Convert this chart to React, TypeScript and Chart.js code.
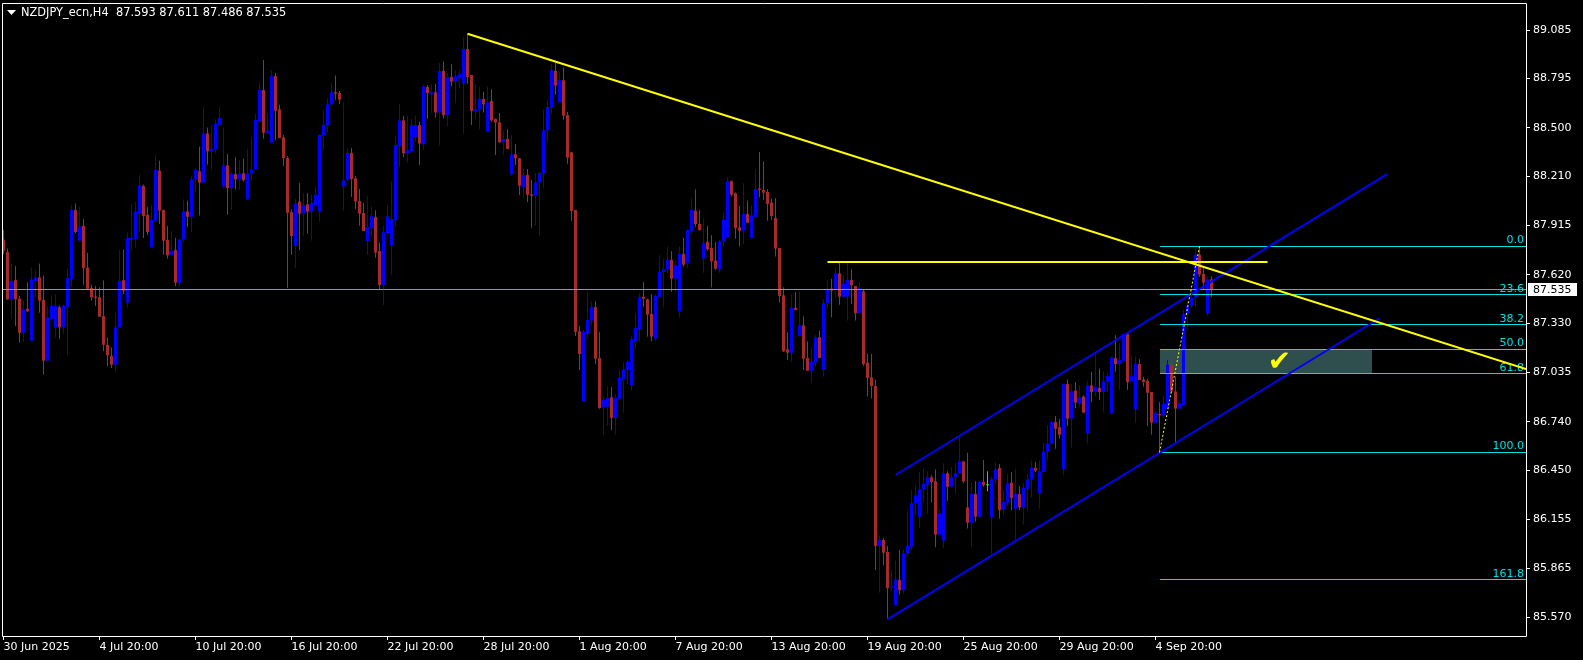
import React, { useEffect, useRef } from "react";
import { Chart, registerables } from "chart.js";

Chart.register(...registerables);

const headerText = "NZDJPY_ecn,H4  87.593 87.611 87.486 87.535";

const xTickBars = [0, 24, 48, 72, 96, 120, 144, 168, 192, 216, 240, 264, 288];
const xTickLabels = [
  "30 Jun 2025", "4 Jul 20:00", "10 Jul 20:00", "16 Jul 20:00", "22 Jul 20:00",
  "28 Jul 20:00", "1 Aug 20:00", "7 Aug 20:00", "13 Aug 20:00", "19 Aug 20:00",
  "25 Aug 20:00", "29 Aug 20:00", "4 Sep 20:00",
];
const yTickValues = [89.085, 88.795, 88.5, 88.21, 87.915, 87.62, 87.33, 87.035, 86.74, 86.45, 86.155, 85.865, 85.57];

const opens = [
  87.832, 87.756, 87.473, 87.588, 87.477, 87.273, 87.417, 87.225, 87.584, 87.604,
  87.469, 87.106, 87.357, 87.305, 87.425, 87.305, 87.429, 87.596, 88.007, 87.824,
  87.912, 87.664, 87.541, 87.489, 87.485, 87.373, 87.201, 87.134, 87.082, 87.305,
  87.588, 87.453, 87.832, 87.836, 87.987, 88.151, 87.979, 87.784, 87.944, 88.243,
  88.007, 87.828, 87.740, 87.768, 87.572, 87.832, 87.999, 87.967, 88.191, 88.239,
  88.171, 88.466, 88.359, 88.370, 88.518, 88.147, 88.275, 88.139, 88.223, 88.191,
  88.227, 88.071, 88.227, 88.251, 88.538, 88.726, 88.470, 88.410, 88.809, 88.610,
  88.442, 88.319, 87.995, 87.792, 88.058, 87.986, 88.042, 87.998, 88.038, 87.998,
  88.453, 88.513, 88.640, 88.712, 88.708, 88.149, 88.189, 88.349, 88.197, 88.062,
  87.990, 87.822, 87.898, 87.966, 87.762, 87.559, 87.870, 87.798, 87.946, 88.389,
  88.544, 88.349, 88.361, 88.445, 88.516, 88.401, 88.744, 88.700, 88.712, 88.592,
  88.840, 88.576, 88.804, 88.776, 88.796, 88.764, 88.971, 88.816, 88.600, 88.608,
  88.672, 88.477, 88.660, 88.552, 88.532, 88.413, 88.433, 88.221, 88.341, 88.317,
  88.145, 88.217, 88.102, 88.094, 88.173, 88.225, 88.485, 88.620, 88.840, 88.652,
  88.784, 88.576, 88.353, 88.008, 87.282, 86.863, 87.266, 87.346, 87.426, 87.122,
  86.827, 86.831, 86.887, 86.763, 86.879, 86.995, 87.050, 86.959, 87.222, 87.294,
  87.489, 87.473, 87.386, 87.238, 87.489, 87.637, 87.653, 87.709, 87.597, 87.402,
  87.745, 87.689, 87.884, 88.004, 87.924, 87.717, 87.817, 87.781, 87.705, 87.653,
  87.821, 87.844, 88.180, 88.108, 87.904, 87.884, 87.984, 87.840, 87.968, 88.136,
  88.128, 88.116, 88.052, 87.960, 87.781, 87.497, 87.174, 87.154, 87.422, 87.254,
  87.318, 87.122, 87.046, 87.094, 87.246, 87.050, 87.449, 87.537, 87.529, 87.629,
  87.489, 87.489, 87.589, 87.553, 87.393, 87.521, 87.094, 87.006, 86.954, 85.997,
  86.033, 85.961, 85.749, 85.642, 85.793, 85.733, 85.953, 85.993, 86.252, 86.172,
  86.336, 86.364, 86.408, 86.384, 86.065, 86.029, 86.432, 86.352, 86.408, 86.432,
  86.504, 86.228, 86.136, 86.308, 86.172, 86.380, 86.360, 86.168, 86.396, 86.464,
  86.216, 86.256, 86.376, 86.220, 86.308, 86.228, 86.340, 86.396, 86.464, 86.312,
  86.440, 86.563, 86.611, 86.739, 86.707, 86.456, 86.966, 86.759, 86.927, 86.851,
  86.891, 86.671, 86.958, 86.919, 86.942, 86.919, 86.982, 86.791, 87.122, 87.086,
  87.106, 87.266, 86.982, 86.815, 87.086, 86.994, 86.986, 86.918, 86.735, 86.787,
  86.779, 86.819, 87.078, 86.922, 86.819, 86.839, 87.385, 87.433, 87.485, 87.740,
  87.625, 87.389, 87.593,
];

const highs = [
  87.888, 87.778, 87.684, 87.672, 87.493, 87.469, 87.576, 87.664, 87.648, 87.688,
  87.616, 87.429, 87.497, 87.505, 87.437, 87.441, 87.660, 88.039, 88.047, 88.027,
  87.952, 87.752, 87.561, 87.553, 87.545, 87.588, 87.245, 87.185, 87.397, 87.768,
  87.772, 87.872, 88.047, 88.055, 88.219, 88.159, 88.027, 88.039, 88.339, 88.303,
  88.011, 87.912, 87.880, 87.840, 87.832, 88.071, 88.063, 88.207, 88.259, 88.386,
  88.626, 88.502, 88.514, 88.550, 88.626, 88.502, 88.343, 88.235, 88.323, 88.307,
  88.315, 88.374, 88.442, 88.582, 88.773, 88.905, 88.586, 88.845, 88.829, 88.638,
  88.458, 88.331, 88.011, 88.075, 88.169, 88.110, 88.110, 88.098, 88.149, 88.457,
  88.604, 88.676, 88.772, 88.812, 88.720, 88.652, 88.377, 88.381, 88.213, 88.133,
  88.050, 88.090, 88.030, 88.006, 87.814, 87.914, 88.038, 88.177, 88.449, 88.644,
  88.572, 88.572, 88.552, 88.572, 88.536, 88.756, 88.756, 88.760, 88.764, 88.888,
  88.896, 88.828, 88.880, 88.844, 88.844, 89.043, 89.063, 88.816, 88.760, 88.744,
  88.716, 88.748, 88.732, 88.556, 88.588, 88.481, 88.493, 88.457, 88.401, 88.321,
  88.261, 88.253, 88.189, 88.229, 88.237, 88.608, 88.668, 88.880, 88.888, 88.836,
  88.860, 88.596, 88.357, 88.008, 87.314, 87.290, 87.517, 87.461, 87.461, 87.278,
  86.891, 86.951, 86.947, 86.907, 87.054, 87.094, 87.110, 87.250, 87.390, 87.509,
  87.577, 87.477, 87.505, 87.501, 87.737, 87.713, 87.789, 87.761, 87.705, 87.789,
  87.840, 87.892, 88.080, 88.132, 88.008, 87.956, 87.912, 87.856, 87.817, 87.828,
  87.996, 88.204, 88.184, 88.112, 88.032, 88.168, 88.064, 88.036, 88.251, 88.355,
  88.299, 88.132, 88.076, 88.080, 87.781, 87.545, 87.274, 87.505, 87.517, 87.521,
  87.370, 87.222, 87.186, 87.258, 87.286, 87.473, 87.585, 87.597, 87.665, 87.697,
  87.617, 87.689, 87.653, 87.553, 87.579, 87.529, 87.146, 87.146, 86.990, 86.061,
  86.045, 85.997, 85.853, 85.909, 85.973, 85.977, 86.208, 86.332, 86.364, 86.440,
  86.460, 86.444, 86.420, 86.456, 86.212, 86.492, 86.444, 86.468, 86.492, 86.655,
  86.504, 86.555, 86.380, 86.384, 86.388, 86.512, 86.444, 86.412, 86.500, 86.488,
  86.332, 86.428, 86.440, 86.460, 86.356, 86.376, 86.428, 86.508, 86.500, 86.508,
  86.615, 86.719, 86.743, 86.775, 86.755, 86.970, 86.994, 86.966, 86.978, 86.962,
  86.899, 86.986, 87.038, 87.158, 87.058, 87.042, 87.034, 87.130, 87.258, 87.210,
  87.266, 87.266, 87.134, 87.130, 87.114, 87.010, 86.998, 86.918, 86.803, 86.859,
  86.898, 87.110, 87.106, 87.010, 86.863, 87.409, 87.461, 87.537, 87.780, 87.792,
  87.665, 87.609, 87.611,
];

const lows = [
  87.744, 87.469, 87.357, 87.313, 87.213, 87.221, 87.397, 87.225, 87.489, 87.393,
  87.022, 87.106, 87.349, 87.245, 87.237, 87.269, 87.138, 87.549, 87.868, 87.820,
  87.561, 87.533, 87.465, 87.433, 87.369, 87.162, 87.074, 87.062, 87.042, 87.305,
  87.505, 87.425, 87.768, 87.784, 87.876, 87.840, 87.856, 87.784, 87.944, 87.924,
  87.740, 87.716, 87.736, 87.553, 87.549, 87.820, 87.904, 87.876, 88.119, 87.975,
  88.171, 88.279, 88.247, 88.347, 88.514, 88.139, 87.979, 88.007, 88.131, 88.127,
  88.179, 88.071, 88.187, 88.251, 88.534, 88.434, 88.470, 88.410, 88.426, 88.438,
  88.271, 87.541, 87.740, 87.660, 87.768, 87.854, 87.866, 87.826, 88.034, 87.942,
  88.365, 88.473, 88.628, 88.668, 88.640, 88.006, 88.181, 88.086, 88.014, 87.914,
  87.882, 87.742, 87.842, 87.722, 87.527, 87.439, 87.854, 87.619, 87.906, 88.265,
  88.325, 88.293, 88.357, 88.421, 88.277, 88.369, 88.552, 88.588, 88.560, 88.393,
  88.556, 88.509, 88.748, 88.648, 88.736, 88.465, 88.764, 88.516, 88.556, 88.493,
  88.592, 88.477, 88.536, 88.337, 88.409, 88.337, 88.373, 88.213, 88.277, 88.098,
  88.078, 88.054, 87.902, 87.914, 87.854, 88.141, 88.413, 88.584, 88.696, 88.652,
  88.548, 88.285, 87.942, 87.254, 87.050, 86.863, 87.242, 87.318, 87.086, 86.819,
  86.663, 86.715, 86.691, 86.663, 86.875, 86.795, 86.963, 86.927, 87.178, 87.222,
  87.429, 87.250, 87.222, 87.226, 87.489, 87.426, 87.629, 87.517, 87.517, 87.366,
  87.669, 87.661, 87.860, 87.908, 87.884, 87.633, 87.765, 87.545, 87.649, 87.633,
  87.789, 87.844, 88.088, 87.836, 87.789, 87.805, 87.928, 87.840, 87.964, 88.084,
  88.068, 87.944, 87.948, 87.729, 87.453, 87.158, 87.110, 87.098, 87.406, 87.250,
  87.050, 87.046, 86.975, 87.070, 87.122, 87.011, 87.414, 87.366, 87.485, 87.441,
  87.481, 87.346, 87.445, 87.346, 87.385, 87.074, 86.891, 86.879, 85.853, 85.718,
  85.881, 85.558, 85.726, 85.642, 85.706, 85.714, 85.933, 85.973, 86.180, 86.105,
  86.260, 86.188, 86.256, 85.989, 86.061, 85.985, 86.268, 86.348, 86.308, 86.428,
  86.372, 86.101, 85.993, 86.144, 86.168, 86.352, 86.324, 85.941, 86.372, 86.160,
  86.184, 86.240, 86.212, 86.033, 86.212, 86.125, 86.208, 86.288, 86.440, 86.220,
  86.436, 86.508, 86.603, 86.579, 86.639, 86.420, 86.715, 86.587, 86.823, 86.827,
  86.791, 86.611, 86.859, 86.891, 86.871, 86.799, 86.923, 86.787, 87.042, 86.930,
  87.102, 86.930, 86.978, 86.735, 86.990, 86.950, 86.715, 86.663, 86.731, 86.557,
  86.771, 86.819, 86.910, 86.611, 86.819, 86.839, 87.286, 87.425, 87.429, 87.609,
  87.529, 87.373, 87.486,
];

const closes = [
  87.764, 87.473, 87.584, 87.473, 87.273, 87.413, 87.401, 87.592, 87.604, 87.465,
  87.106, 87.365, 87.433, 87.433, 87.305, 87.433, 87.600, 88.007, 87.876, 87.908,
  87.660, 87.537, 87.485, 87.481, 87.369, 87.201, 87.138, 87.082, 87.305, 87.584,
  87.525, 87.840, 87.840, 87.999, 88.155, 87.971, 87.876, 87.948, 88.247, 88.003,
  87.824, 87.736, 87.764, 87.572, 87.832, 87.999, 87.967, 88.191, 88.247, 88.171,
  88.466, 88.359, 88.374, 88.522, 88.558, 88.275, 88.139, 88.223, 88.191, 88.227,
  88.187, 88.227, 88.251, 88.546, 88.726, 88.470, 88.482, 88.809, 88.602, 88.438,
  88.319, 87.991, 87.852, 88.047, 87.986, 88.038, 87.998, 88.050, 88.098, 88.457,
  88.516, 88.640, 88.712, 88.704, 88.668, 88.185, 88.349, 88.193, 88.058, 87.986,
  87.882, 87.906, 87.970, 87.754, 87.559, 87.874, 87.970, 87.954, 88.397, 88.544,
  88.349, 88.365, 88.516, 88.516, 88.405, 88.748, 88.708, 88.712, 88.592, 88.840,
  88.576, 88.804, 88.776, 88.808, 88.820, 88.971, 88.804, 88.600, 88.612, 88.672,
  88.640, 88.652, 88.544, 88.532, 88.413, 88.433, 88.373, 88.341, 88.317, 88.153,
  88.217, 88.098, 88.094, 88.173, 88.229, 88.485, 88.624, 88.844, 88.752, 88.784,
  88.572, 88.321, 88.002, 87.278, 87.146, 87.278, 87.350, 87.426, 87.118, 86.823,
  86.871, 86.883, 86.763, 86.883, 87.003, 87.054, 87.098, 87.234, 87.302, 87.485,
  87.477, 87.382, 87.250, 87.493, 87.637, 87.653, 87.709, 87.597, 87.677, 87.745,
  87.681, 87.888, 88.008, 87.924, 87.888, 87.809, 87.773, 87.701, 87.657, 87.821,
  87.948, 88.180, 88.100, 87.900, 87.884, 87.984, 87.932, 87.976, 88.132, 88.128,
  88.112, 88.044, 87.972, 87.777, 87.493, 87.162, 87.154, 87.422, 87.410, 87.318,
  87.118, 87.046, 87.098, 87.246, 87.122, 87.449, 87.533, 87.525, 87.629, 87.489,
  87.565, 87.589, 87.557, 87.390, 87.539, 87.086, 87.002, 86.954, 85.997, 86.033,
  85.957, 85.745, 85.753, 85.797, 85.733, 85.953, 85.997, 86.252, 86.300, 86.336,
  86.368, 86.408, 86.380, 86.065, 86.192, 86.432, 86.352, 86.408, 86.432, 86.504,
  86.384, 86.136, 86.308, 86.172, 86.380, 86.360, 86.360, 86.396, 86.456, 86.212,
  86.260, 86.372, 86.284, 86.308, 86.228, 86.344, 86.396, 86.464, 86.448, 86.444,
  86.563, 86.611, 86.739, 86.699, 86.663, 86.966, 86.759, 86.923, 86.855, 86.887,
  86.795, 86.958, 86.919, 86.950, 86.919, 86.982, 87.014, 87.126, 87.086, 87.110,
  87.266, 86.978, 87.014, 87.086, 86.990, 86.978, 86.914, 86.735, 86.795, 86.779,
  86.847, 87.082, 86.922, 86.819, 86.851, 87.385, 87.433, 87.481, 87.740, 87.621,
  87.573, 87.593, 87.535,
];

// Drawing objects (bar index / price anchors)
const trendBars = [116, 349];
const trendPrices = [89.063, 87.296];
const resistanceBars = [206, 316];
const resistancePrice = 87.697;
const channelUpperBars = [223, 346];
const channelUpperPrices = [86.422, 88.224];
const channelLowerBars = [221, 344];
const channelLowerPrices = [85.558, 87.36];
const fibBars = [289, 299];
const fibPrices = [86.557, 87.792];
const fibLevels = [0, 23.6, 38.2, 50, 61.8, 100, 161.8];
const fibLabels = ["0.0", "23.6", "38.2", "50.0", "61.8", "100.0", "161.8"];
const zoneBars = [289, 342];
const zoneLevels = [50, 61.8];
const checkBar = 319;
const checkPrice = 87.092;
const lastPrice = 87.535;

const BULL = "#0000FF";
const BEAR = "#A52A2A";
const DOJI = "#00FF00";
const FIB = "#00E0E0";
const FONT = '"DejaVu Sans", "Liberation Sans", sans-serif';

const fibPrice = (lvl: number) => fibPrices[1] - (fibPrices[1] - fibPrices[0]) * lvl / 100;

const overlayPlugin = {
  id: "mt4overlay",
  beforeDraw(chart: any) {
    const ctx = chart.ctx;
    ctx.save();
    ctx.fillStyle = "#000000";
    ctx.fillRect(0, 0, chart.width, chart.height);
    ctx.restore();
  },
  beforeDatasetsDraw(chart: any) {
    const { ctx, chartArea: a, scales } = chart;
    const x = scales.x, y = scales.y;
    ctx.save();
    ctx.beginPath();
    ctx.rect(a.left, a.top, a.right - a.left, a.bottom - a.top);
    ctx.clip();
    const x0 = Math.round(x.getPixelForValue(zoneBars[0]));
    const x1 = Math.round(x.getPixelForValue(zoneBars[1]));
    const y0 = Math.round(y.getPixelForValue(fibPrice(zoneLevels[0])));
    const y1 = Math.round(y.getPixelForValue(fibPrice(zoneLevels[1])));
    ctx.fillStyle = "#2F4F4F";
    ctx.fillRect(x0, y0, x1 - x0, y1 - y0);
    ctx.restore();
  },
  afterDatasetsDraw(chart: any) {
    const { ctx, chartArea: a, scales } = chart;
    const x = scales.x, y = scales.y;
    const crisp = (v: number) => Math.floor(v) + 0.5;
    ctx.save();
    ctx.beginPath();
    ctx.rect(a.left, a.top, a.right - a.left, a.bottom - a.top);
    ctx.clip();

    // current price line
    ctx.strokeStyle = "#8A98A8";
    ctx.lineWidth = 1;
    const py = crisp(y.getPixelForValue(lastPrice));
    ctx.beginPath();
    ctx.moveTo(a.left, py);
    ctx.lineTo(a.right, py);
    ctx.stroke();

    // fibonacci levels
    const fx = Math.round(x.getPixelForValue(fibBars[0]));
    ctx.strokeStyle = FIB;
    fibLevels.forEach((lvl) => {
      const ly = crisp(y.getPixelForValue(fibPrice(lvl)));
      ctx.beginPath();
      ctx.moveTo(fx, ly);
      ctx.lineTo(a.right, ly);
      ctx.stroke();
    });
    ctx.fillStyle = FIB;
    ctx.font = "11px " + FONT;
    ctx.textAlign = "right";
    ctx.textBaseline = "alphabetic";
    fibLevels.forEach((lvl, k) => {
      const ly = y.getPixelForValue(fibPrice(lvl));
      ctx.fillText(fibLabels[k], a.right - 2, ly - 3);
    });

    // channel
    ctx.strokeStyle = BULL;
    ctx.lineWidth = 2;
    ctx.beginPath();
    ctx.moveTo(x.getPixelForValue(channelUpperBars[0]), y.getPixelForValue(channelUpperPrices[0]));
    ctx.lineTo(x.getPixelForValue(channelUpperBars[1]), y.getPixelForValue(channelUpperPrices[1]));
    ctx.stroke();
    ctx.beginPath();
    ctx.moveTo(x.getPixelForValue(channelLowerBars[0]), y.getPixelForValue(channelLowerPrices[0]));
    ctx.lineTo(x.getPixelForValue(channelLowerBars[1]), y.getPixelForValue(channelLowerPrices[1]));
    ctx.stroke();

    // yellow trend ray
    const slope = (trendPrices[1] - trendPrices[0]) / (trendBars[1] - trendBars[0]);
    const endBar = x.max;
    const endPrice = trendPrices[0] + slope * (endBar - trendBars[0]);
    ctx.strokeStyle = "#FFFF00";
    ctx.lineWidth = 2;
    ctx.beginPath();
    ctx.moveTo(x.getPixelForValue(trendBars[0]), y.getPixelForValue(trendPrices[0]));
    ctx.lineTo(x.getPixelForValue(endBar), y.getPixelForValue(endPrice));
    ctx.stroke();

    // horizontal resistance
    const ry = Math.round(y.getPixelForValue(resistancePrice));
    ctx.beginPath();
    ctx.moveTo(x.getPixelForValue(resistanceBars[0]), ry);
    ctx.lineTo(x.getPixelForValue(resistanceBars[1]), ry);
    ctx.stroke();

    // fib dotted trend
    ctx.lineWidth = 1;
    ctx.setLineDash([2, 2]);
    ctx.beginPath();
    ctx.moveTo(x.getPixelForValue(fibBars[0]), y.getPixelForValue(fibPrices[0]));
    ctx.lineTo(x.getPixelForValue(fibBars[1]), y.getPixelForValue(fibPrices[1]));
    ctx.stroke();
    ctx.setLineDash([]);

    // check mark
    ctx.fillStyle = "#FFFF00";
    ctx.font = "bold 28px " + FONT;
    ctx.textAlign = "center";
    ctx.textBaseline = "middle";
    ctx.fillText("\u2714", x.getPixelForValue(checkBar), y.getPixelForValue(checkPrice));
    ctx.restore();
  },
  afterDraw(chart: any) {
    const { ctx, chartArea: a, scales } = chart;
    const y = scales.y;
    ctx.save();
    // frame
    ctx.strokeStyle = "#FFFFFF";
    ctx.lineWidth = 1;
    ctx.beginPath();
    ctx.moveTo(a.left - 0.5, a.top + 0.5);
    ctx.lineTo(a.right + 0.5, a.top + 0.5);
    ctx.lineTo(a.right + 0.5, a.bottom + 0.5);
    ctx.lineTo(a.left - 0.5, a.bottom + 0.5);
    ctx.closePath();
    ctx.stroke();

    // header
    ctx.fillStyle = "#FFFFFF";
    ctx.beginPath();
    ctx.moveTo(7, 10);
    ctx.lineTo(16, 10);
    ctx.lineTo(11.5, 15);
    ctx.closePath();
    ctx.fill();
    ctx.font = "11.4px " + FONT;
    ctx.textAlign = "left";
    ctx.textBaseline = "middle";
    ctx.fillText(headerText, 21, 13);

    // last price box
    const py = Math.round(y.getPixelForValue(lastPrice));
    ctx.fillStyle = "#FFFFFF";
    ctx.fillRect(a.right + 2, py - 6, 49, 13);
    ctx.fillStyle = "#000000";
    ctx.font = "11px " + FONT;
    ctx.fillText(lastPrice.toFixed(3), a.right + 7, py + 1);
    ctx.restore();
  },
};

export default function App() {
  const canvasRef = useRef<HTMLCanvasElement | null>(null);

  useEffect(() => {
    document.body.style.margin = "0";
    document.body.style.background = "#000";
    const canvas = canvasRef.current;
    if (!canvas) return;

    const idx = opens.map((_, i) => i);
    const colors = idx.map((i) => (closes[i] > opens[i] ? BULL : closes[i] < opens[i] ? BEAR : DOJI));
    const wickData = idx.map((i) => ({ x: i, y: [lows[i], highs[i]] }));
    const bodyData = idx.map((i) => ({ x: i, y: [opens[i], closes[i]] }));

    const chart = new Chart(canvas, {
      type: "bar",
      data: {
        datasets: [
          {
            label: "body",
            data: bodyData as any,
            backgroundColor: colors,
            borderWidth: 0,
            grouped: false,
            barPercentage: 1,
            categoryPercentage: 1,
            maxBarThickness: 3,
            inflateAmount: 0,
            minBarLength: 1,
          } as any,
          {
            label: "wick",
            data: wickData as any,
            backgroundColor: colors,
            borderWidth: 0,
            grouped: false,
            barPercentage: 1,
            categoryPercentage: 1,
            maxBarThickness: 1,
            inflateAmount: 0,
            minBarLength: 1,
          } as any,
        ],
      },
      options: {
        responsive: false,
        animation: false,
        events: [],
        layout: { padding: { left: 3, top: 3, right: 0, bottom: 0 } },
        plugins: { legend: { display: false }, tooltip: { enabled: false } },
        scales: {
          x: {
            type: "linear",
            min: -0.125,
            max: 380.625,
            offset: false,
            bounds: "data",
            grid: { offset: false, drawOnChartArea: false, drawTicks: true, tickLength: 4, color: "#FFFFFF" },
            border: { display: false },
            ticks: {
              autoSkip: false,
              maxRotation: 0,
              align: "start",
              padding: 1,
              color: "#FFFFFF",
              font: { family: FONT, size: 11 },
              callback: (v: any) => {
                const k = xTickBars.indexOf(Number(v));
                return k >= 0 ? xTickLabels[k] : "";
              },
            },
            afterBuildTicks: (s: any) => {
              s.ticks = xTickBars.map((v) => ({ value: v }));
            },
            afterFit: (s: any) => {
              s.height = 24;
              s.paddingLeft = 0;
              s.paddingRight = 0;
            },
          },
          y: {
            type: "linear",
            position: "right",
            min: 85.4584,
            max: 89.2466,
            bounds: "data",
            grid: { drawOnChartArea: false, drawTicks: true, tickLength: 4, color: "#FFFFFF" },
            border: { display: false },
            ticks: {
              autoSkip: false,
              padding: 3,
              color: "#FFFFFF",
              font: { family: FONT, size: 11 },
              callback: (v: any) => Number(v).toFixed(3),
            },
            afterBuildTicks: (s: any) => {
              s.ticks = yTickValues.map((v) => ({ value: v }));
            },
            afterFit: (s: any) => {
              s.width = 57;
              s.paddingTop = 0;
              s.paddingBottom = 0;
            },
          },
        },
      } as any,
      plugins: [overlayPlugin as any],
    });

    return () => {
      chart.destroy();
    };
  }, []);

  return (
    <div style={{ position: "absolute", left: 0, top: 0, width: 1583, height: 660, background: "#000" }}>
      <canvas ref={canvasRef} width={1583} height={660} style={{ display: "block" }} />
    </div>
  );
}
